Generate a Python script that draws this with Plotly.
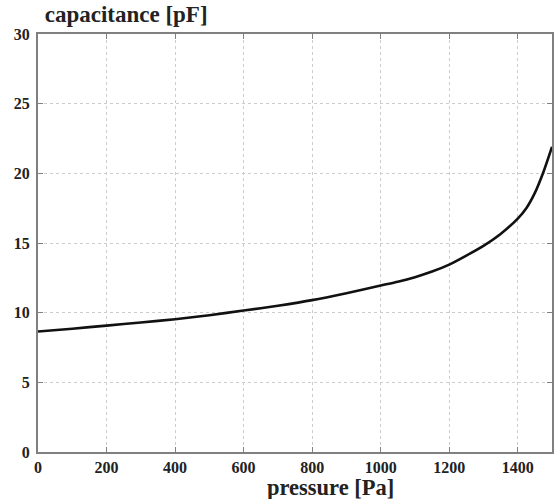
import plotly.graph_objects as go

pressure = [0, 100, 200, 300, 400, 500, 600, 700, 800, 900, 1000, 1050, 1100, 1150, 1200,
            1250, 1300, 1350, 1400, 1425, 1450, 1475, 1500]
capacitance = [8.65, 8.85, 9.07, 9.3, 9.53, 9.82, 10.15, 10.5, 10.9, 11.4, 11.95, 12.22,
               12.55, 12.95, 13.45, 14.1, 14.8, 15.65, 16.75, 17.5, 18.6, 20.1, 21.9]
x_ticks = [0, 200, 400, 600, 800, 1000, 1200, 1400]
y_ticks = [0, 5, 10, 15, 20, 25, 30]

font = "Liberation Serif"

fig = go.Figure()
fig.add_trace(go.Scatter(x=pressure, y=capacitance, mode="lines",
                         line=dict(color="#111111", width=2.6, shape="spline", smoothing=0.6),
                         showlegend=False, hoverinfo="skip"))

axis_common = dict(showline=True, linecolor="#808080", linewidth=2, mirror="ticks",
                   ticks="inside", ticklen=5, tickcolor="#808080", tickwidth=1,
                   showgrid=True, gridcolor="#cccccc", griddash="dot", gridwidth=1,
                   zeroline=False,
                   tickfont=dict(family=font, size=16, color="#222222", weight="bold"))

fig.update_xaxes(range=[0, 1500], tickvals=x_ticks, ticktext=[str(v) for v in x_ticks], **axis_common)
fig.update_yaxes(range=[0, 30], tickvals=y_ticks, ticktext=[str(v) for v in y_ticks],
                 ticklabelstandoff=3, **axis_common)

fig.update_layout(
    width=555, height=499,
    margin=dict(l=38, r=1, t=34, b=47),
    paper_bgcolor="white", plot_bgcolor="white",
    font=dict(family=font),
    title=dict(text="<b>capacitance [pF]</b>", xref="paper", x=0.013, xanchor="left",
               yref="container", y=0.972, yanchor="middle",
               font=dict(family=font, size=23, color="#222222")),
    annotations=[
        dict(text="<b>pressure [Pa]</b>", xref="paper", yref="paper", x=0.57, y=0,
             xanchor="center", yanchor="top", yshift=-22, showarrow=False,
             borderpad=0,
             font=dict(family=font, size=22.5, color="#222222")),
    ],
)

fig.write_html("out.html")
